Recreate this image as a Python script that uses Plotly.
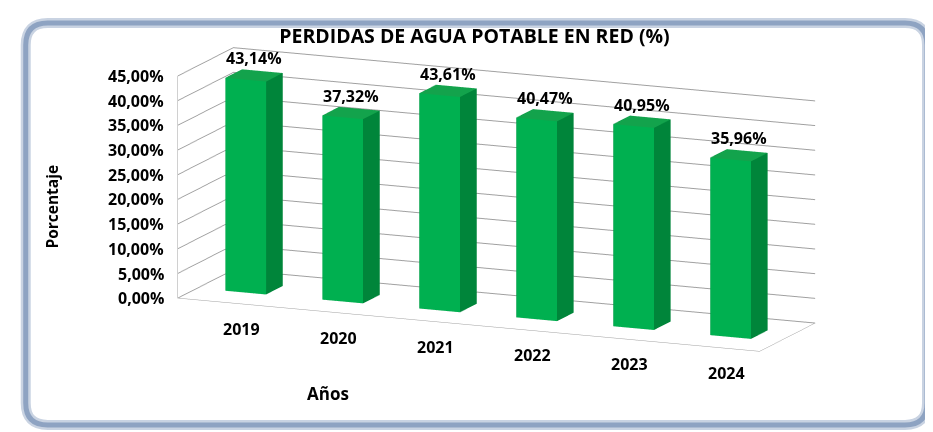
import plotly.graph_objects as go

years = ["2019", "2020", "2021", "2022", "2023", "2024"]
losses = [43.14, 37.32, 43.61, 40.47, 40.95, 35.96]
z_ticks = [0, 5, 10, 15, 20, 25, 30, 35, 40, 45]

FRONT = "#00b050"
SIDE = "#00853a"
TOP = "#13a34c"
GRID = "#a0a0a0"


def cuboid(i, v):
    x0, x1 = i - 0.21, i + 0.21
    y0, y1 = 0.35, 0.65
    xs = [x0, x1, x1, x0, x0, x1, x1, x0]
    ys = [y0, y0, y1, y1, y0, y0, y1, y1]
    zs = [0, 0, 0, 0, v, v, v, v]
    tri = [
        (0, 1, 5), (0, 5, 4),  # front
        (1, 2, 6), (1, 6, 5),  # right
        (4, 5, 6), (4, 6, 7),  # top
        (0, 3, 7), (0, 7, 4),  # left
        (3, 2, 6), (3, 6, 7),  # back
        (0, 1, 2), (0, 2, 3),  # bottom
    ]
    colors = [FRONT, FRONT, SIDE, SIDE, TOP, TOP] + [SIDE] * 6
    return go.Mesh3d(
        x=xs, y=ys, z=zs,
        i=[t[0] for t in tri], j=[t[1] for t in tri], k=[t[2] for t in tri],
        facecolor=colors,
        flatshading=True,
        lighting=dict(ambient=1, diffuse=0, specular=0, roughness=1, fresnel=0),
        hoverinfo="skip",
        showscale=False,
    )


fig = go.Figure()
for n, v in enumerate(losses):
    fig.add_trace(cuboid(n, v))

year_font = dict(family="Open Sans", size=16, color="black", weight="bold")
tick_font = dict(family="Open Sans", size=16, color="black", weight="bold")


def pct(v):
    return f"<b>{v:.2f}%</b>".replace(".", ",")


scene_notes = []
# value labels above bars
for n, v in enumerate(losses):
    scene_notes.append(dict(x=n, y=0.5, z=v, text=pct(v), showarrow=False,
                            yshift=17, font=tick_font))
# year labels under the bars
for n, yr in enumerate(years):
    scene_notes.append(dict(x=n, y=0.35, z=0, text=f"<b>{yr}</b>", showarrow=False,
                            yshift=-36, xshift=-4, font=year_font))
# percent labels on the left wall
for t in z_ticks:
    scene_notes.append(dict(x=-0.5, y=0.0, z=t, text=pct(t), showarrow=False,
                            xanchor="right", xshift=-12, font=tick_font))

fr_x0, fr_x1, fr_y0, fr_y1 = 0.019, 0.985, 0.035, 0.965
rx, ry = 22 / 933, 22 / 432
frame = (
    f"M {fr_x0 + rx} {fr_y1} L {fr_x1 - rx} {fr_y1} Q {fr_x1} {fr_y1} {fr_x1} {fr_y1 - ry} "
    f"L {fr_x1} {fr_y0 + ry} Q {fr_x1} {fr_y0} {fr_x1 - rx} {fr_y0} "
    f"L {fr_x0 + rx} {fr_y0} Q {fr_x0} {fr_y0} {fr_x0} {fr_y0 + ry} "
    f"L {fr_x0} {fr_y1 - ry} Q {fr_x0} {fr_y1} {fr_x0 + rx} {fr_y1} Z"
)

fig.update_layout(
    width=933,
    height=432,
    margin=dict(l=0, r=0, t=0, b=0),
    paper_bgcolor="white",
    separators=",.",
    showlegend=False,
    title=dict(
        text="<b>PERDIDAS DE AGUA POTABLE EN RED (%)</b>",
        x=0.5, y=0.935, xanchor="center", yanchor="middle",
        font=dict(family="Open Sans", size=19.5, color="black"),
    ),
    scene=dict(
        domain=dict(x=[0.047, 1.0], y=[0.113, 1.0]),
        aspectmode="manual",
        aspectratio=dict(x=3.3, y=0.743, z=1.188),
        camera=dict(
            eye=dict(x=0.381 * 2.2, y=-0.899 * 2.2, z=0.216 * 2.2),
            center=dict(x=0, y=0, z=0),
            up=dict(x=0, y=0, z=1),
            projection=dict(type="orthographic"),
        ),
        xaxis=dict(
            range=[-0.5, 5.5], showticklabels=False, ticks="",
            showgrid=False, zeroline=False, showline=True, linecolor=GRID,
            showbackground=False, title=dict(text=""), showspikes=False,
        ),
        yaxis=dict(
            range=[0, 1], showticklabels=False, ticks="", showgrid=False, zeroline=False,
            showline=True, linecolor=GRID, showbackground=False,
            title=dict(text=""), showspikes=False,
        ),
        zaxis=dict(
            range=[0, 45], tickvals=z_ticks, showticklabels=False, ticks="",
            showgrid=True, gridcolor=GRID, zeroline=False, showline=True,
            linecolor=GRID, showbackground=False, title=dict(text=""),
            showspikes=False,
        ),
        annotations=scene_notes,
    ),
    annotations=[
        dict(text="<b>Porcentaje</b>", x=0.047, y=0.54, xref="paper", yref="paper",
             xanchor="center", yanchor="middle", textangle=-90, showarrow=False,
             font=dict(family="Open Sans", size=15.5, color="black")),
        dict(text="<b>Años</b>", x=0.343, y=0.108, xref="paper", yref="paper",
             xanchor="center", yanchor="middle", showarrow=False,
             font=dict(family="Open Sans", size=17, color="black")),
    ],
    shapes=[
        dict(type="path", path=frame, xref="paper", yref="paper",
             line=dict(color="#c9d3e2", width=10)),
        dict(type="path", path=frame, xref="paper", yref="paper",
             line=dict(color="#8ea3c2", width=5)),
    ],
)

fig.write_html("out.html")
